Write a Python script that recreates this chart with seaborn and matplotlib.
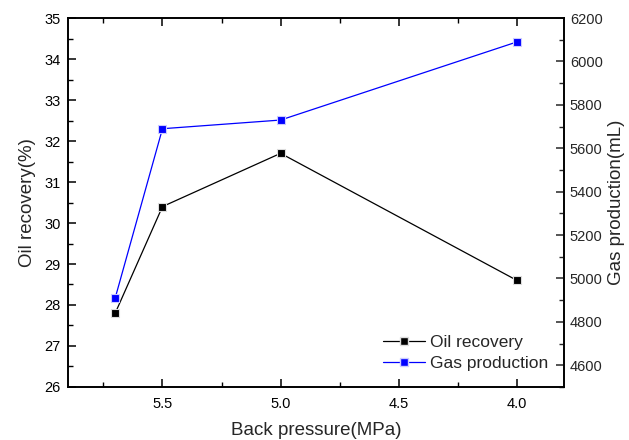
import matplotlib
matplotlib.use("Agg")
import matplotlib.pyplot as plt
import seaborn as sns
import pandas as pd
from matplotlib.ticker import MultipleLocator
from matplotlib.lines import Line2D

sns.set_style("ticks")
plt.rcParams['font.family'] = ['Liberation Sans', 'DejaVu Sans']

pressure = [5.7, 5.5, 5.0, 4.0]
oil_recovery = [27.8, 30.4, 31.7, 28.6]
gas_production = [4910, 5690, 5730, 6090]

df = pd.DataFrame({"pressure": pressure, "oil": oil_recovery, "gas": gas_production})

fig = plt.figure(figsize=(6.29, 4.4), dpi=100)
ax = fig.add_axes([0.108, 0.1205, 0.789, 0.8385])
ax2 = ax.twinx()

sns.lineplot(data=df, x="pressure", y="oil", ax=ax, color="black", lw=0.9,
             marker="s", markersize=5.2, markeredgecolor="#dddddd", markeredgewidth=0.8,
             sort=False, legend=False)
sns.lineplot(data=df, x="pressure", y="gas", ax=ax2, color="#0000ff", lw=0.9,
             marker="s", markersize=5.2, markeredgecolor="#ccccff", markeredgewidth=0.8,
             sort=False, legend=False)

ax.set_xlim(5.9, 3.8)
ax.set_ylim(26, 35)
ax2.set_ylim(4500, 6200)

ax.xaxis.set_major_locator(MultipleLocator(0.5))
ax.xaxis.set_minor_locator(MultipleLocator(0.25))
ax.yaxis.set_major_locator(MultipleLocator(1))
ax.yaxis.set_minor_locator(MultipleLocator(0.5))
ax2.yaxis.set_major_locator(MultipleLocator(200))
ax2.yaxis.set_minor_locator(MultipleLocator(100))
ax.xaxis.set_major_formatter(matplotlib.ticker.FormatStrFormatter('%.1f'))

for a in (ax, ax2):
    for s in a.spines.values():
        s.set_visible(True)
        s.set_linewidth(1.2)
        s.set_color("black")

ax.tick_params(axis='both', which='both', direction='in', top=True, right=False,
               labelsize=10.5, colors='black')
ax.tick_params(axis='x', which='major', pad=7)
ax.tick_params(axis='y', which='major', pad=5)
ax.tick_params(which='major', length=6, width=1.1)
ax.tick_params(which='minor', length=3.5, width=1.0)
ax2.tick_params(axis='y', which='both', direction='in', labelsize=10.5, pad=4)
ax2.tick_params(which='major', length=6, width=1.1)
ax2.tick_params(which='minor', length=3.5, width=1.0)

ax.set_xlabel("Back pressure(MPa)", fontsize=13.5, labelpad=8)
ax.set_ylabel("Oil recovery(%)", fontsize=13.5, labelpad=6)
ax2.set_ylabel("Gas production(mL)", fontsize=13.5, labelpad=4)

handles = [
    Line2D([], [], color="black", lw=0.9, marker="s", markersize=6, markeredgecolor="#dddddd"),
    Line2D([], [], color="#0000ff", lw=0.9, marker="s", markersize=6, markeredgecolor="#ccccff"),
]
ax.legend(handles, ["Oil recovery", "Gas production"], loc="lower right", frameon=False,
          fontsize=12.5, handlelength=2.4, handletextpad=0.3, borderaxespad=0.5,
          labelspacing=0.35)

fig.savefig("out.png", dpi=100)
